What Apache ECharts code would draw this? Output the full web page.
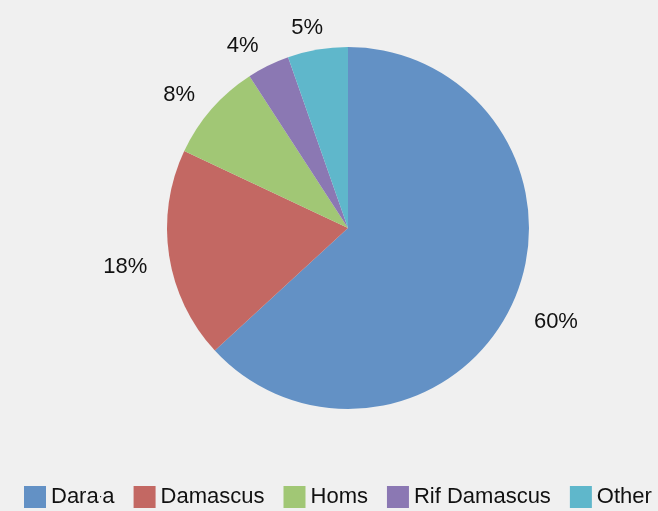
<!DOCTYPE html>
<html>
<head>
<meta charset="utf-8">
<script src="https://cdn.jsdelivr.net/npm/echarts@6/dist/echarts.min.js"></script>
<style>
html,body{margin:0;padding:0;background:#f0f0f0;}
#chart{width:658px;height:511px;}
</style>
</head>
<body>
<div id="chart"></div>
<script>
var categories = ['Dara\u00b7a', 'Damascus', 'Homs', 'Rif Damascus', 'Other'];
var values = [60, 17.9, 8.4, 3.6, 5.1];
var colors = ['#6391c5', '#c36863', '#a1c775', '#8b78b3', '#5fb7cb'];

var CX = 348, CY = 228, R = 181;
var total = values.reduce(function(a,b){return a+b;}, 0);
var FONT = 'Liberation Sans, Arial, sans-serif';

var chart = echarts.init(document.getElementById('chart'));
chart.setOption({
  backgroundColor: '#f0f0f0',
  animation: false,
  color: colors,
  textStyle: { fontFamily: FONT },
  legend: {
    left: 24,
    top: 486,
    width: 634,
    padding: 0,
    icon: 'rect',
    itemWidth: 22,
    itemHeight: 22,
    itemGap: 19,
    formatter: function(name){
      if (name.indexOf('\u00b7') >= 0) {
        var parts = name.split('\u00b7');
        return '{t|' + parts[0] + '}{d|\u00b7}{t|' + parts[1] + '}';
      }
      return name;
    },
    textStyle: {
      fontSize: 22, color: '#111', fontFamily: FONT,
      rich: {
        t: { fontSize: 22, color: '#111', fontFamily: FONT },
        d: { fontSize: 11, color: '#111', fontFamily: FONT }
      }
    },
    data: categories
  },
  series: [{
    type: 'pie',
    center: [CX, CY],
    radius: [0, R],
    startAngle: 90,
    clockwise: true,
    avoidLabelOverlap: false,
    data: categories.map(function(c, i){ return { name: c, value: values[i] }; }),
    label: {
      show: true,
      position: 'outside',
      fontSize: 22,
      color: '#111',
      fontFamily: FONT,
      formatter: function(p){ return Math.round(p.value) + '%'; }
    },
    labelLine: { show: false },
    labelLayout: function(p){
      var i = p.dataIndex, cum = 0;
      for (var k = 0; k < i; k++) cum += values[k];
      var th = (cum + values[i] / 2) / total * 2 * Math.PI;
      var ux = Math.sin(th), uy = -Math.cos(th);
      var hw = p.labelRect.width / 2, hh = 6;
      var cl = function(v){ return Math.max(-1, Math.min(1, v)); };
      var d = R + 22;
      return {
        x: CX + d * ux + hw * cl(ux * 2.5),
        y: CY + d * uy + hh * cl(uy * 2.5) + 6,
        align: 'center',
        verticalAlign: 'middle'
      };
    },
    itemStyle: { borderWidth: 0 },
    emphasis: { disabled: true }
  }]
});
</script>
</body>
</html>
